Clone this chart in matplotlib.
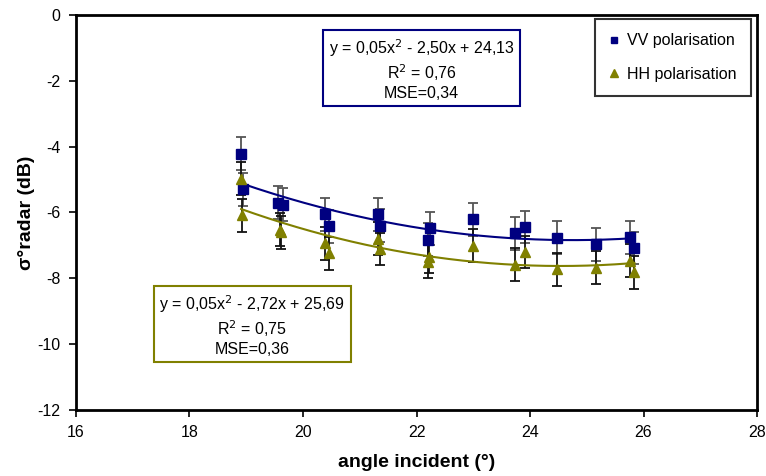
import numpy as np
import matplotlib
matplotlib.use("Agg")
import matplotlib.pyplot as plt

plt.rcParams['font.family'] = ['Liberation Sans', 'DejaVu Sans']
plt.rcParams['axes.unicode_minus'] = False

# Incidence angles (deg) and backscatter (dB)
vv_angle = [18.91, 18.94, 19.56, 19.64, 20.39, 20.46, 21.32, 21.36, 22.23, 22.20,
            22.99, 23.74, 23.92, 24.48, 25.16, 25.76, 25.84]
vv_sigma = [-4.22, -5.30, -5.70, -5.76, -6.05, -6.42, -6.05, -6.40, -6.48, -6.83,
            -6.21, -6.63, -6.44, -6.77, -6.97, -6.75, -7.08]

hh_angle = [18.91, 18.93, 19.59, 19.62, 20.39, 20.45, 21.32, 21.36, 22.22, 22.21,
            22.99, 23.74, 23.92, 24.48, 25.16, 25.76, 25.84]
hh_sigma = [-4.97, -6.08, -6.52, -6.60, -6.94, -7.24, -6.80, -7.11, -7.34, -7.49,
            -7.01, -7.59, -7.20, -7.73, -7.68, -7.46, -7.81]

err_db = 0.5

vv_label = "VV polarisation"
hh_label = "HH polarisation"
vv_eq = "y = 0,05x$^{2}$ - 2,50x + 24,13\nR$^{2}$ = 0,76\nMSE=0,34"
hh_eq = "y = 0,05x$^{2}$ - 2,72x + 25,69\nR$^{2}$ = 0,75\nMSE=0,36"

navy = "#000080"
olive = "#808000"

fig = plt.figure(figsize=(7.66, 4.76), dpi=100)
ax = fig.add_axes([0.0992, 0.1387, 0.8891, 0.8298])

# error bars
ax.errorbar(vv_angle, vv_sigma, yerr=err_db, fmt='none', ecolor='#555555',
            elinewidth=1.3, capsize=3.5, capthick=1.3, zorder=2)
ax.errorbar(hh_angle, hh_sigma, yerr=err_db, fmt='none', ecolor='#111111',
            elinewidth=1.3, capsize=3.5, capthick=1.3, zorder=2)

# second-order polynomial trend lines
for xs, ys, col in [(vv_angle, vv_sigma, navy), (hh_angle, hh_sigma, olive)]:
    coef = np.polyfit(xs, ys, 2)
    xx = np.linspace(min(xs), max(xs), 200)
    ax.plot(xx, np.polyval(coef, xx), color=col, lw=1.5, zorder=3)

ax.plot(vv_angle, vv_sigma, ls='none', marker='s', ms=7, color=navy,
        mec=navy, label=vv_label, zorder=4)
ax.plot(hh_angle, hh_sigma, ls='none', marker='^', ms=7.5, color=olive,
        mec=olive, label=hh_label, zorder=4)

ax.set_xlim(16, 28)
ax.set_ylim(-12, 0)
ax.set_xticks(np.arange(16, 29, 2))
ax.set_yticks(np.arange(-12, 1, 2))
ax.tick_params(direction='out', length=5, width=1.2, labelsize=11.5, pad=6)
for s in ax.spines.values():
    s.set_linewidth(2)
    s.set_color('black')

ax.set_xlabel("angle incident (°)", fontsize=14, fontweight='bold')
ax.set_ylabel("σ°radar (dB)", fontsize=14, fontweight='bold')
ax.xaxis.set_label_coords(0.5, -0.112)
ax.yaxis.set_label_coords(-0.060, 0.5)

leg = ax.legend(loc='upper right', bbox_to_anchor=(0.991, 0.99), borderaxespad=0,
                fontsize=11.5, frameon=True, fancybox=False, edgecolor='black',
                handlelength=0.6, handletextpad=0.5, markerscale=0.7,
                borderpad=0.9, labelspacing=1.15)
leg.get_frame().set_linewidth(1.5)

ax.text(0.5074, 0.8633, vv_eq, transform=ax.transAxes, ha='center', va='center',
        fontsize=11.5, linespacing=1.2,
        bbox=dict(boxstyle='square,pad=0.35', fc='white', ec=navy, lw=1.5))
ax.text(0.2588, 0.215, hh_eq, transform=ax.transAxes, ha='center', va='center',
        fontsize=11.5, linespacing=1.2,
        bbox=dict(boxstyle='square,pad=0.35', fc='white', ec=olive, lw=1.5))

fig.savefig("out.png", dpi=100)
